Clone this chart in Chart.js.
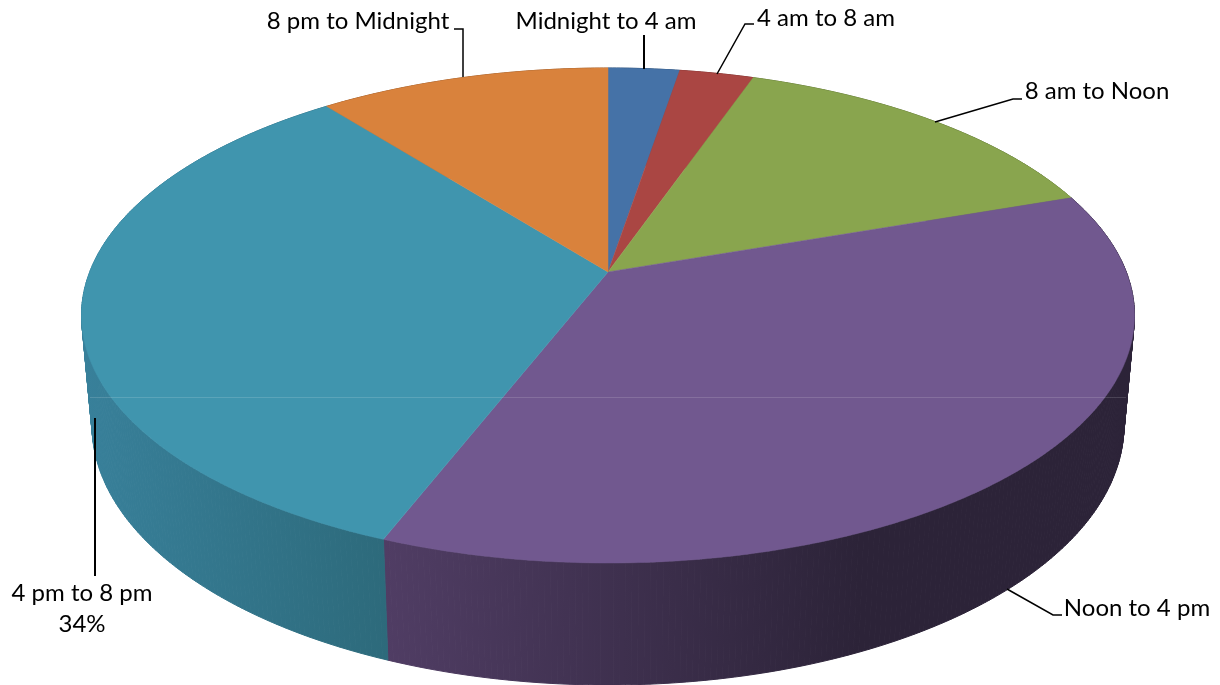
<!DOCTYPE html>
<html>
<head>
<meta charset="utf-8">
<style>
html, body { margin: 0; padding: 0; background: #fff; overflow: hidden; }
canvas { display: block; }
</style>
<script src="https://cdn.jsdelivr.net/npm/chart.js@4"></script>
</head>
<body>
<canvas id="myChart" width="1220" height="685"></canvas>
<script>
// share of each time slot (slot 5 is labelled 34%)
let categories = ['Midnight to 4 am', '4 am to 8 am', '8 am to Noon', 'Noon to 4 pm', '4 pm to 8 pm', '8 pm to Midnight'];
let shares = [2.6, 2.7, 14.4, 36.2, 33.5, 10.6];
let top_colors = ['#4572a7', '#aa4643', '#89a54e', '#71588f', '#4095ae', '#d9823c'];
let wall_colors = [
    ['#2f4f75', '#2f4f75'],
    ['#76302e', '#76302e'],
    ['#5f7336', '#5f7336'],
    ['#503d64', '#2c2338'],
    ['#38809a', '#2d6a7b'],
    ['#97592a', '#97592a']
];
let wall_ranges = [[0, 1220], [0, 1220], [0, 1220], [385, 860], [85, 388], [0, 1220]];

// the lid and the base are ellipses, the pie centre is pulled up by the perspective
let lid = {x: 608, y: 315.5, a: 526.5, b: 247.5};
let base = {x: 608, y: 425, a: 516, b: 260};
let tilt = -0.176;

// text x is the centre of the label, y the baseline
let label_spots = [
    {x: 606, y: 29, line: [[644, 35], [644, 69]], width: 2},
    {x: 826, y: 26, line: [[717, 74], [745, 24], [754, 24]], width: 1.5},
    {x: 1097, y: 99, line: [[935, 122], [1013, 99], [1022, 99]], width: 1.5},
    {x: 1137, y: 616, line: [[1007, 589], [1053, 615], [1062, 615]], width: 1.5},
    {x: 82, y: 601, line: [[95, 418], [95, 576]], width: 2},
    {x: 358, y: 29, line: [[454, 29], [463, 29], [463, 77]], width: 1.5}
];

// circle angle (clockwise from 12 o'clock) to position on an ellipse
function project(angle, shape)
{
    let u = Math.sin(angle);
    let w = -Math.cos(angle);
    let d = 1 + tilt * w;
    return {
        x: shape.x + shape.a * Math.sqrt(1 - tilt * tilt) * u / d,
        y: shape.y + shape.b * (w + tilt) / d
    };
}

function arc_angles(arc)
{
    let from = arc.startAngle + Math.PI / 2;
    let to = arc.endAngle + Math.PI / 2;
    let pts = [];
    let steps = Math.max(4, Math.ceil((to - from) / 0.01));
    for (let i = 0; i <= steps; i++) {
        pts.push(from + (to - from) * i / steps);
    }
    return pts;
}

const pie3d = {
    id: 'pie3d',
    beforeDatasetDraw(chart, args) {
        let ctx = chart.ctx;
        let arcs = args.meta.data;

        // walls first as small quads, the lid paints over whatever ends up behind it
        arcs.forEach(function (arc, i) {
            let angles = arc_angles(arc);
            let grad = ctx.createLinearGradient(wall_ranges[i][0], 0, wall_ranges[i][1], 0);
            grad.addColorStop(0, wall_colors[i][0]);
            grad.addColorStop(1, wall_colors[i][1]);
            ctx.fillStyle = grad;
            ctx.strokeStyle = grad;
            ctx.lineWidth = 1;
            for (let k = 0; k < angles.length - 1; k++) {
                let a = project(angles[k], lid);
                let b = project(angles[k + 1], lid);
                let c = project(angles[k + 1], base);
                let d = project(angles[k], base);
                ctx.beginPath();
                ctx.moveTo(a.x, a.y);
                ctx.lineTo(b.x, b.y);
                ctx.lineTo(c.x, c.y);
                ctx.lineTo(d.x, d.y);
                ctx.closePath();
                ctx.fill();
                ctx.stroke();
            }
        });

        let apex = {x: lid.x, y: lid.y + lid.b * tilt};
        arcs.forEach(function (arc, i) {
            ctx.beginPath();
            ctx.moveTo(apex.x, apex.y);
            arc_angles(arc).forEach(function (t) {
                let p = project(t, lid);
                ctx.lineTo(p.x, p.y);
            });
            ctx.closePath();
            ctx.fillStyle = top_colors[i];
            ctx.strokeStyle = top_colors[i];
            ctx.lineWidth = 0.5;
            ctx.fill();
            ctx.stroke();
        });

        // faint seam across the whole pie
        ctx.fillStyle = 'rgba(255, 255, 255, 0.14)';
        ctx.fillRect(90, 397, 1036, 1);

        return false;
    },
    afterDatasetsDraw(chart) {
        let ctx = chart.ctx;
        ctx.strokeStyle = '#000';
        ctx.fillStyle = '#000';
        ctx.font = '24px Lato, Carlito, sans-serif';
        ctx.textAlign = 'center';
        ctx.textBaseline = 'alphabetic';
        label_spots.forEach(function (spot, i) {
            ctx.lineWidth = spot.width;
            ctx.beginPath();
            spot.line.forEach(function (p, k) {
                if (k == 0) ctx.moveTo(p[0], p[1]); else ctx.lineTo(p[0], p[1]);
            });
            ctx.stroke();
            ctx.fillText(categories[i], spot.x, spot.y);
        });
        ctx.fillText(Math.round(shares[4]) + '%', label_spots[4].x, label_spots[4].y + 31);
    }
};

let config = {
    type: 'pie',
    data: {
        labels: categories,
        datasets: [{ data: shares, backgroundColor: top_colors, borderWidth: 0 }]
    },
    options: {
        responsive: false,
        animation: false,
        plugins: {
            legend: { display: false },
            tooltip: { enabled: false }
        }
    },
    plugins: [pie3d]
};

window.chart = new Chart(document.getElementById('myChart'), config);
</script>
</body>
</html>
